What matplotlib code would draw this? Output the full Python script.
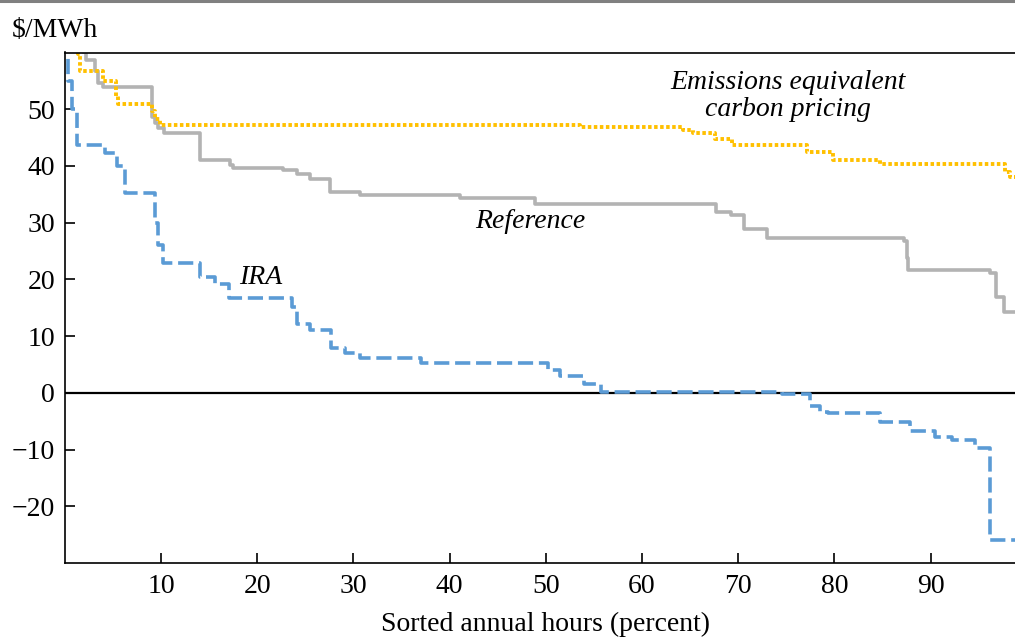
import matplotlib
matplotlib.use("Agg")
import matplotlib.pyplot as plt
from matplotlib.lines import Line2D

# --- data (step curves, where='post') ---
ref_x = [0, 1.9, 2.2, 3.1, 3.4, 4.0, 9.1, 9.4, 9.7, 10.3, 14.1, 17.2, 17.5, 22.7,
         24.1, 25.5, 27.6, 30.7, 41.1, 48.9, 67.7, 69.2, 70.6, 73.0, 87.2, 87.5,
         87.7, 96.2, 96.8, 97.6, 100]
ref_y = [62, 60, 58.6, 56.7, 54.7, 54.0, 48.7, 47.5, 46.7, 45.8, 41.0, 40.1, 39.7,
         39.3, 38.6, 37.7, 35.4, 34.9, 34.3, 33.3, 31.9, 31.3, 28.9, 27.3, 26.7,
         23.8, 21.7, 21.1, 16.9, 14.3, 14.3]

emis_x = [0, 1.4, 1.6, 4.0, 5.3, 5.5, 9.1, 9.4, 9.9, 53.6, 64.3, 65.3, 67.6, 69.4,
          77.1, 79.9, 84.7, 97.7, 98.3, 100]
emis_y = [62, 59.8, 56.7, 54.9, 52.3, 50.9, 49.6, 48.3, 47.3, 46.8, 46.4, 45.8,
          44.7, 43.7, 42.4, 41.1, 40.3, 39.0, 38.1, 38.1]

ira_x = [0, 0.33, 0.8, 1.27, 4.2, 5.4, 6.25, 9.4, 9.7, 10.2, 14.1, 15.6, 17.1,
         23.6, 24.1, 25.5, 27.7, 29.1, 30.7, 37.0, 50.2, 51.5, 54.0, 55.7, 61.0,
         74.6, 77.5, 78.5, 79.3, 84.7, 87.9, 90.5, 92.2, 94.6, 96.2, 100]
ira_y = [62, 55, 50, 43.7, 42.2, 40.0, 35.2, 30.0, 26.0, 22.9, 20.5, 19.2, 16.8,
         15.2, 12.2, 11.1, 7.9, 7.1, 6.2, 5.2, 4.1, 2.9, 1.6, 0.2, 0.1, -0.2,
         -2.4, -3.3, -3.6, -5.1, -6.8, -7.7, -8.4, -9.8, -26.0, -26.0]

x_ticks = [10, 20, 30, 40, 50, 60, 70, 80, 90]
y_ticks = [-20, -10, 0, 10, 20, 30, 40, 50]

plt.rcParams['font.family'] = ['Liberation Serif', 'DejaVu Serif']
plt.rcParams['font.size'] = 20

W, H = 1015, 638
fig = plt.figure(figsize=(W / 100, H / 100), dpi=100)
# axes box: left spine at x=64.8px, 10 % = 96.2px, y from 52.5 to 563px
left = 64.8 / W
width = 962 / W
bottom = 1 - 563 / H
height = (563 - 52.5) / H
ax = fig.add_axes([left, bottom, width, height])

ax.step(ref_x, ref_y, where='post', color='#b3b3b3', lw=2.6)
ax.step(emis_x, emis_y, where='post', color='#ffc000', lw=2.8,
        linestyle=(0, (0.9, 0.65)), dash_capstyle='butt')
ax.step(ira_x, ira_y, where='post', color='#5b9bd5', lw=2.6,
        linestyle=(0, (4.2, 1.6)), dash_capstyle='butt')
ax.axhline(0, color='black', lw=1.6, zorder=1)

ax.set_xlim(0, 100)
ax.set_ylim(-30, 60)
ax.set_xticks(x_ticks)
ax.set_yticks(y_ticks)
ax.set_yticklabels([str(v).replace('-', '\u2212') for v in y_ticks])
ax.tick_params(direction='in', length=7, width=1.2, pad=7)
ax.tick_params(axis='x', pad=8)
ax.spines['right'].set_visible(False)
for s in ['left', 'top', 'bottom']:
    ax.spines[s].set_linewidth(1.2)

ax.set_xlabel('Sorted annual hours (percent)', fontsize=20, labelpad=9)

ax.text(75.2, 52.3, 'Emissions equivalent\ncarbon pricing', style='italic',
        ha='center', va='center', fontsize=20, linespacing=1.1)
ax.text(48.4, 30.2, 'Reference', style='italic', ha='center', va='center', fontsize=20)
ax.text(20.4, 20.3, 'IRA', style='italic', ha='center', va='center', fontsize=20)

fig.text(12 / W, 1 - 37 / H, '\\$/MWh', ha='left', va='baseline', fontsize=20)
fig.add_artist(Line2D([0, 1], [1 - 1 / H, 1 - 1 / H], transform=fig.transFigure,
                      color='#808080', lw=2.2))

fig.savefig('out.png', dpi=100)
